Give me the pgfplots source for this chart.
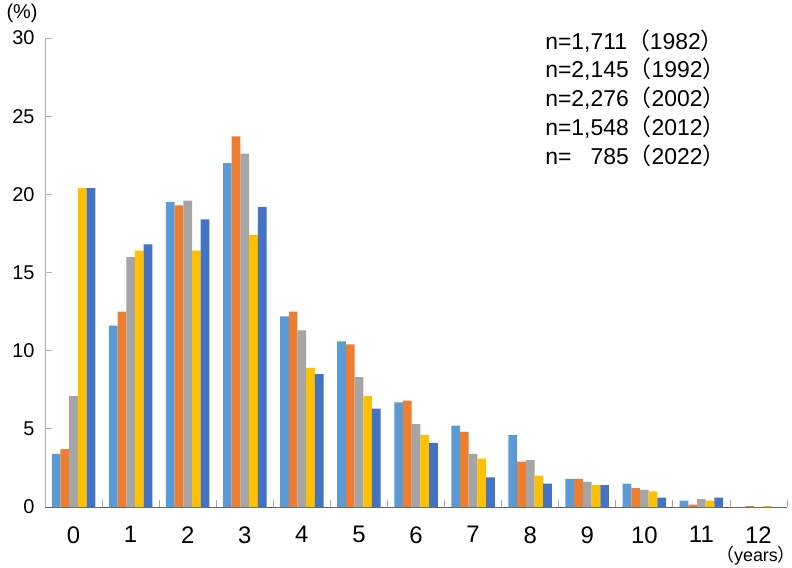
\documentclass[border=0pt]{standalone}
\usepackage{fontspec}
\setmainfont{Liberation Sans}
\newfontfamily\cjk{Noto Sans CJK JP}
\usepackage{pgfplots}
\pgfplotsset{compat=1.18}
\definecolor{cA}{HTML}{5B9BD5}
\definecolor{cB}{HTML}{ED7D31}
\definecolor{cC}{HTML}{A5A5A5}
\definecolor{cD}{HTML}{FFC000}
\definecolor{cE}{HTML}{4472C4}
\newcommand{\lp}{{\cjk （}}
\newcommand{\rp}{{\cjk ）}}
\begin{document}
\begin{tikzpicture}
\begin{axis}[
  scale only axis,
  width=742bp, height=469bp,
  xmin=-0.5, xmax=12.5, ymin=0, ymax=30,
  ybar=0pt, bar width=8.7bp,
  axis x line=bottom, axis y line=left,
  x axis line style={-, draw=black!60, line width=0.8pt},
  y axis line style={-, draw=black!30, line width=0.8pt},
  tick align=inside,
  xtick={0,...,12},
  major x tick style={draw=none},
  minor xtick={-0.5,0.5,...,12.5},
  minor tick length=7bp,
  minor x tick style={draw=black!35, line width=0.8pt},
  ytick={0,5,...,30},
  major tick length=7bp,
  major y tick style={draw=black!30, line width=0.8pt},
  /pgf/number format/assume math mode=true,
  xticklabel style={font=\fontsize{24}{28}\selectfont, yshift=-16bp},
  yticklabel style={font=\fontsize{20}{24}\selectfont, xshift=-7bp},
  clip=false,
]
\addplot[fill=cA, draw=none] coordinates {(0,3.4) (1,11.6) (2,19.5) (3,22.0) (4,12.2) (5,10.6) (6,6.7) (7,5.2) (8,4.6) (9,1.8) (10,1.5) (11,0.4) (12,0)};
\addplot[fill=cB, draw=none] coordinates {(0,3.7) (1,12.5) (2,19.3) (3,23.7) (4,12.5) (5,10.4) (6,6.8) (7,4.8) (8,2.9) (9,1.8) (10,1.2) (11,0.15) (12,0.05)};
\addplot[fill=cC, draw=none] coordinates {(0,7.1) (1,16.0) (2,19.6) (3,22.6) (4,11.3) (5,8.3) (6,5.3) (7,3.4) (8,3.0) (9,1.6) (10,1.1) (11,0.5) (12,0)};
\addplot[fill=cD, draw=none] coordinates {(0,20.4) (1,16.4) (2,16.4) (3,17.4) (4,8.9) (5,7.1) (6,4.6) (7,3.1) (8,2.0) (9,1.4) (10,1.0) (11,0.4) (12,0.05)};
\addplot[fill=cE, draw=none] coordinates {(0,20.4) (1,16.8) (2,18.4) (3,19.2) (4,8.5) (5,6.3) (6,4.1) (7,1.9) (8,1.5) (9,1.4) (10,0.6) (11,0.6) (12,0)};
% sample sizes by survey year
\begin{scope}[every node/.style={anchor=base west, inner sep=0pt, font=\fontsize{23}{27}\selectfont}]
\node at (rel axis cs:0.674,0.9765) {n=1,711\lp1982\rp};
\node at (rel axis cs:0.674,0.9152) {n=2,145\lp1992\rp};
\node at (rel axis cs:0.674,0.8539) {n=2,276\lp2002\rp};
\node at (rel axis cs:0.674,0.7926) {n=1,548\lp2012\rp};
\node at (rel axis cs:0.674,0.7313) {n=\phantom{1,}785\lp2022\rp};
\end{scope}
\node[font=\fontsize{20}{24}\selectfont, inner sep=0pt] at ([xshift=-23bp, yshift=25bp]rel axis cs:0,1) {(\%)};
\node[font=\fontsize{18}{22}\selectfont, inner sep=0pt] at ([xshift=-31bp, yshift=-49bp]rel axis cs:1,0) {\lp years\rp};
\end{axis}
\pgfresetboundingbox
\path[use as bounding box] (-45bp,-61bp) rectangle (747bp,507bp);
\end{tikzpicture}
\end{document}
